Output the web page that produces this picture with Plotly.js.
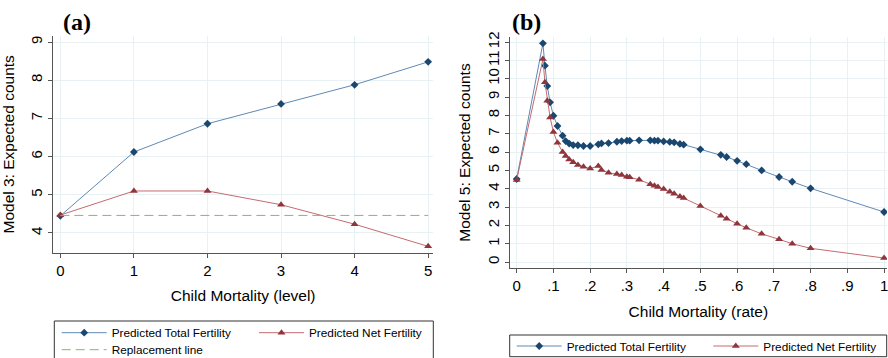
<!DOCTYPE html>
<html><head><meta charset="utf-8">
<script src="https://cdn.plot.ly/plotly-3.0.1.min.js"></script>
<style>html,body{margin:0;padding:0;background:#fff;}#chart{width:888px;height:358px;}</style>
</head><body><div id="chart"></div>
<script>
// ---- Panel (a): Model 3, child mortality level ----
const levelX = [0, 1, 2, 3, 4, 5];
const levelTotal = [4.45, 6.12, 6.86, 7.38, 7.88, 8.48];
const levelNet = [4.47, 5.10, 5.10, 4.74, 4.23, 3.65];
const replacementLine = [4.46, 4.46, 4.46, 4.46, 4.46, 4.46];
const levelXTicks = [0, 1, 2, 3, 4, 5];
const levelYTicks = [4, 5, 6, 7, 8, 9];

// ---- Panel (b): Model 5, child mortality rate ----
const rateX = [0, 0.0714, 0.0769, 0.0833, 0.0909, 0.1, 0.1111, 0.125, 0.1333, 0.1429,
  0.1538, 0.1667, 0.1818, 0.2, 0.2222, 0.2308, 0.25, 0.2727, 0.2857, 0.3,
  0.3077, 0.3333, 0.3636, 0.375, 0.3846, 0.4, 0.4167, 0.4286, 0.4444, 0.4545,
  0.5, 0.5556, 0.5714, 0.6, 0.625, 0.6667, 0.7143, 0.75, 0.8, 1];
const rateTotal = [4.53, 11.93, 10.71, 9.60, 8.71, 7.98, 7.42, 6.89, 6.60, 6.46,
  6.38, 6.37, 6.33, 6.33, 6.42, 6.47, 6.49, 6.56, 6.60, 6.62,
  6.62, 6.64, 6.64, 6.62, 6.62, 6.58, 6.55, 6.53, 6.44, 6.40,
  6.15, 5.85, 5.73, 5.52, 5.34, 5.00, 4.64, 4.38, 4.02, 2.73];
const rateNet = [4.48, 11.07, 9.80, 8.80, 7.89, 7.09, 6.51, 6.00, 5.78, 5.60,
  5.45, 5.30, 5.20, 5.10, 5.24, 5.02, 4.87, 4.80, 4.75, 4.65,
  4.63, 4.49, 4.25, 4.16, 4.10, 3.98, 3.84, 3.73, 3.58, 3.49,
  3.06, 2.53, 2.36, 2.09, 1.87, 1.54, 1.24, 1.00, 0.75, 0.22];
const rateXTicks = [0, 0.1, 0.2, 0.3, 0.4, 0.5, 0.6, 0.7, 0.8, 0.9, 1];
const rateXLabels = ['0', '.1', '.2', '.3', '.4', '.5', '.6', '.7', '.8', '.9', '1'];
const rateYTicks = [0, 1, 2, 3, 4, 5, 6, 7, 8, 9, 10, 11, 12];

const W = 888, H = 358;
const fx = p => p / W;
const fy = p => 1 - p / H;

const FONT = 'Liberation Sans, Arial, sans-serif';
const BLUE_M = '#1a476f', BLUE_L = '#5f89b4';
const RED_M = '#90353b', RED_L = '#c46a70';
const GREEN = '#8cb07a';
const GRID = '#e8f1f3';
const AXC = '#555555';
const ITEMW = 45, TEXTGAP = ITEMW + 10;

const traces = [
  {x: levelX, y: levelTotal, xaxis: 'x', yaxis: 'y', mode: 'lines+markers', name: 'Predicted Total Fertility',
   line: {color: BLUE_L, width: 1}, marker: {symbol: 'diamond', size: 6, color: BLUE_M}, legend: 'legend'},
  {x: levelX, y: levelNet, xaxis: 'x', yaxis: 'y', mode: 'lines+markers', name: 'Predicted Net Fertility',
   line: {color: RED_L, width: 1}, marker: {symbol: 'triangle-up', size: 7, color: RED_M}, legend: 'legend2'},
  {x: levelX, y: replacementLine, xaxis: 'x', yaxis: 'y', mode: 'lines', name: 'Replacement line',
   line: {color: GREEN, width: 1, dash: '9px,5px'}, legend: 'legend3'},
  {x: rateX, y: rateTotal, xaxis: 'x2', yaxis: 'y2', mode: 'lines+markers', name: 'Predicted Total Fertility',
   line: {color: BLUE_L, width: 1}, marker: {symbol: 'diamond', size: 6, color: BLUE_M}, legend: 'legend4'},
  {x: rateX, y: rateNet, xaxis: 'x2', yaxis: 'y2', mode: 'lines+markers', name: 'Predicted Net Fertility',
   line: {color: RED_L, width: 1}, marker: {symbol: 'triangle-up', size: 7, color: RED_M}, legend: 'legend5'}
];

const axBase = {
  showline: true, linecolor: AXC, linewidth: 1,
  ticks: 'outside', ticklen: 4, tickcolor: AXC, tickwidth: 1,
  showgrid: true, gridcolor: GRID, gridwidth: 1, zeroline: false,
  tickfont: {family: FONT, size: 15, color: '#000'},
  ticklabeloverflow: 'allow',
  fixedrange: true
};
const legBase = {
  orientation: 'v', xanchor: 'left', yanchor: 'middle', bgcolor: 'rgba(0,0,0,0)', borderwidth: 0,
  itemwidth: ITEMW,
  font: {family: FONT, size: 11.8, color: '#000'}
};

const layout = {
  width: W, height: H,
  margin: {l: 0, r: 0, t: 0, b: 0, autoexpand: false},
  paper_bgcolor: '#fff', plot_bgcolor: '#fff',
  showlegend: true,
  xaxis: Object.assign({}, axBase, {
    domain: [fx(53), fx(433.3)], anchor: 'y', range: [-0.1, 5.07],
    tickmode: 'array', tickvals: levelXTicks,
    title: {text: 'Child Mortality (level)', font: {family: FONT, size: 15.5, color: '#000'}, standoff: 12}
  }),
  yaxis: Object.assign({}, axBase, {
    domain: [fy(252.7), fy(36)], anchor: 'x', range: [3.484, 9.157],
    tickmode: 'array', tickvals: levelYTicks, tickangle: -90,
    title: {text: 'Model 3: Expected counts', font: {family: FONT, size: 15.5, color: '#000'}, standoff: 12}
  }),
  xaxis2: Object.assign({}, axBase, {
    domain: [fx(509.7), fx(887)], anchor: 'y2', range: [-0.019, 1.008],
    tickmode: 'array', tickvals: rateXTicks, ticktext: rateXLabels,
    title: {text: 'Child Mortality (rate)', font: {family: FONT, size: 15.5, color: '#000'}, standoff: 12}
  }),
  yaxis2: Object.assign({}, axBase, {
    domain: [fy(268.3), fy(36.7)], anchor: 'x2', range: [-0.34, 12.29],
    tickmode: 'array', tickvals: rateYTicks, tickangle: -90,
    title: {text: 'Model 5: Expected counts', font: {family: FONT, size: 15.5, color: '#000'}, standoff: 10}
  }),
  legend: Object.assign({}, legBase, {x: fx(111.7 - TEXTGAP), y: fy(332.7)}),
  legend2: Object.assign({}, legBase, {x: fx(309 - TEXTGAP), y: fy(332.7)}),
  legend3: Object.assign({}, legBase, {x: fx(111.7 - TEXTGAP), y: fy(349.7)}),
  legend4: Object.assign({}, legBase, {x: fx(566.7 - TEXTGAP), y: fy(346)}),
  legend5: Object.assign({}, legBase, {x: fx(763.3 - TEXTGAP), y: fy(346)}),
  shapes: [
    {type: 'rect', xref: 'paper', yref: 'paper', x0: fx(54.3), x1: fx(433.3), y0: fy(370), y1: fy(321),
     line: {color: '#333', width: 1}, fillcolor: 'rgba(0,0,0,0)', layer: 'above'},
    {type: 'rect', xref: 'paper', yref: 'paper', x0: fx(509.7), x1: fx(886.7), y0: fy(356.7), y1: fy(335),
     line: {color: '#333', width: 1}, fillcolor: 'rgba(0,0,0,0)', layer: 'above'}
  ],
  annotations: [
    {text: '<b>(a)</b>', xref: 'paper', yref: 'paper', x: fx(61), y: fy(22), xanchor: 'left', yanchor: 'middle',
     showarrow: false, font: {family: 'Liberation Serif, Times New Roman, serif', size: 24, color: '#000'}},
    {text: '<b>(b)</b>', xref: 'paper', yref: 'paper', x: fx(509.5), y: fy(22), xanchor: 'left', yanchor: 'middle',
     showarrow: false, font: {family: 'Liberation Serif, Times New Roman, serif', size: 24, color: '#000'}}
  ]
};

Plotly.newPlot('chart', traces, layout, {displayModeBar: false, staticPlot: true});
</script>
</body></html>
